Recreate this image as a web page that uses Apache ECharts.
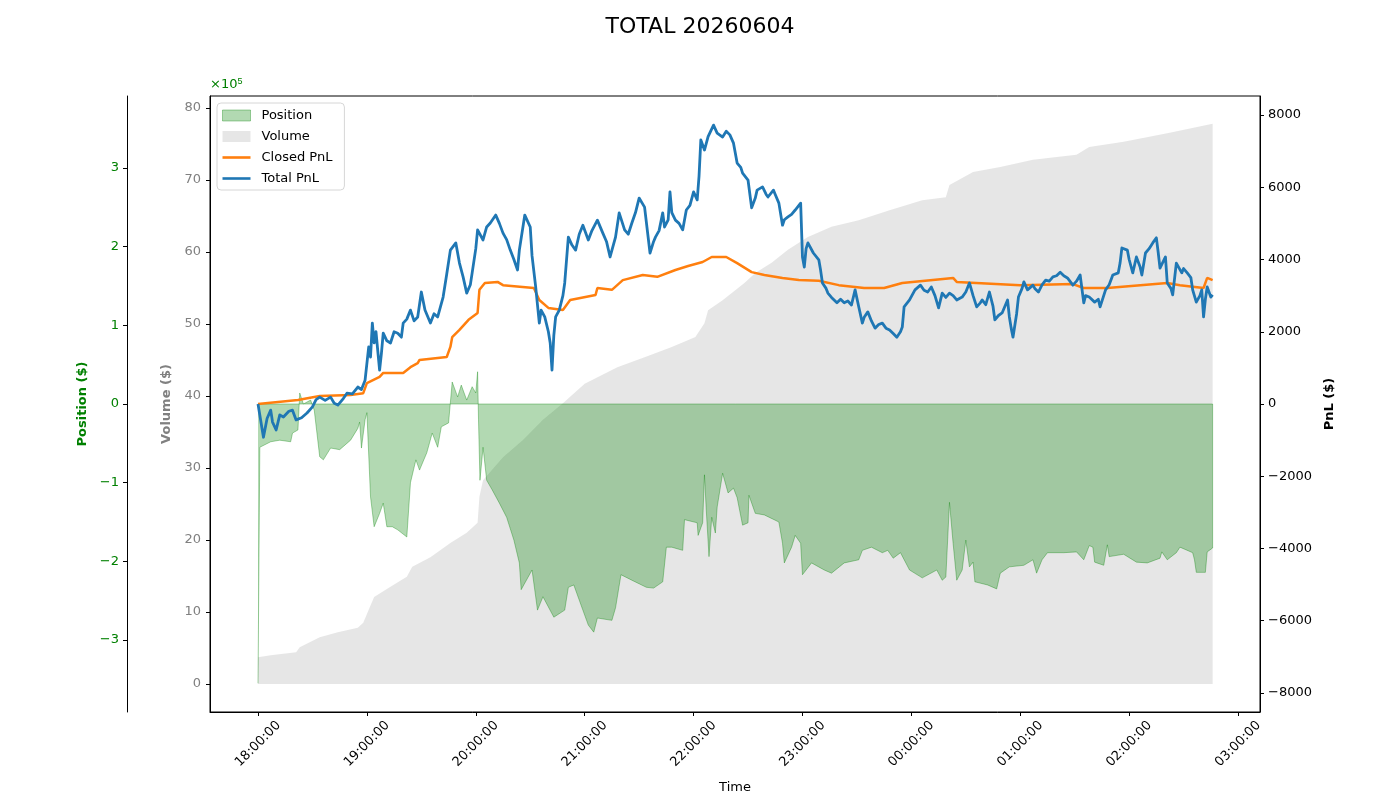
<!DOCTYPE html>
<html>
<head>
<meta charset="utf-8">
<title>TOTAL 20260604</title>
<script src="https://cdn.jsdelivr.net/npm/echarts@6/dist/echarts.min.js"></script>
<style>
  html, body { margin: 0; padding: 0; background: #fff; }
  #main { width: 1400px; height: 800px; }
</style>
</head>
<body>
<div id="main"></div>
<script>
// time is minutes after 18:00, position / volume in units of 1e5 $
const hourTicks = [0, 60, 120, 180, 240, 300, 360, 420, 480, 540]
const positionTicks = [-3, -2, -1, 0, 1, 2, 3]
const volumeTicks = [0, 10, 20, 30, 40, 50, 60, 70, 80]
const pnlTicks = [-8000, -6000, -4000, -2000, 0, 2000, 4000, 6000, 8000]

const position = [
    [0, -3.55], [1, -0.55], [7, -0.48], [12, -0.46], [18, -0.48], [19, -0.37], [22, -0.33], [23, 0.14],
    [25, 0], [29, 0.05], [31, -0.08], [34, -0.67], [36, -0.71], [40, -0.56], [45, -0.58], [51, -0.46],
    [55, -0.31], [56, -0.23], [57, -0.56], [59, -0.2], [60, -0.11], [62, -1.18], [64, -1.56], [67, -1.39],
    [69, -1.26], [71, -1.56], [74, -1.56], [77, -1.6], [82, -1.69], [84, -1.0], [87, -0.71], [89, -0.84],
    [93, -0.62], [96, -0.37], [99, -0.55], [101, -0.29], [105, -0.24], [107, 0.28], [110, 0.09], [112, 0.24],
    [115, 0.05], [118, 0.22], [120, 0.14], [121, 0.41], [121.5, -0.2], [122.3, -0.97], [124, -0.55], [126, -0.97],
    [129, -1.09], [133, -1.26], [137, -1.44], [141, -1.73], [144, -2.02], [145, -2.36], [151, -2.11], [154, -2.62],
    [157, -2.45], [163, -2.71], [169, -2.62], [171, -2.33], [174, -2.3], [179, -2.62], [182, -2.81], [185, -2.9],
    [187, -2.72], [195, -2.75], [197, -2.59], [200, -2.17], [206, -2.24], [214, -2.33], [218, -2.34], [223, -2.26],
    [225, -1.82], [228, -1.82], [234, -1.86], [235, -1.47], [242, -1.51], [242.5, -1.67], [245, -1.51], [246, -0.9],
    [247, -1.35], [248.5, -1.94], [250, -1.44], [252, -1.64], [253, -1.31], [256, -0.88], [259, -1.13], [262, -1.07],
    [264, -1.19], [267, -1.54], [270, -1.51], [270.5, -1.16], [274, -1.39], [279, -1.41], [287, -1.5], [289, -1.77],
    [290, -2.02], [294, -1.82], [296, -1.67], [299, -1.77], [300, -2.17], [305, -2.02], [312, -2.11], [316, -2.15],
    [323, -2.02], [331, -1.98], [333, -1.86], [338, -1.82], [344, -1.89], [347, -1.86], [350, -1.96], [354, -1.89],
    [359, -2.11], [366, -2.21], [374, -2.11], [377, -2.24], [379, -2.2], [381, -1.25], [383, -1.77], [385, -2.24],
    [388, -2.11], [390, -1.73], [392, -2.07], [394, -2.01], [395, -2.26], [402, -2.3], [407, -2.35], [409, -2.15],
    [414, -2.07], [422, -2.05], [427, -1.98], [429, -2.15], [432, -1.98], [435, -1.89], [444, -1.89], [451, -1.88],
    [455, -1.98], [458, -1.8], [460, -1.82], [461, -2.01], [466, -2.05], [468, -1.79], [469, -1.94], [477, -1.91],
    [484, -2.01], [490, -2.02], [497, -1.96], [498, -1.88], [501, -1.98], [506, -1.89], [508, -1.82], [515, -1.89],
    [516, -1.98], [517, -2.14], [522, -2.14], [523, -1.88], [526, -1.83]
]

const volume = [
    [0, 3.7], [7, 4.0], [21, 4.4], [23, 5.1], [34, 6.5], [44, 7.2], [55, 7.8], [58, 8.5], [61, 10.3],
    [64, 12.1], [73, 13.5], [82, 14.9], [85, 16.3], [95, 17.6], [106, 19.6], [115, 21.0], [121, 22.4],
    [122, 26.0], [124, 28.3], [135, 31.5], [146, 33.9], [157, 36.7], [168, 39.0], [180, 41.7], [198, 44.0],
    [213, 45.4], [228, 46.8], [241, 48.2], [246, 50.1], [248, 51.9], [256, 53.3], [268, 55.7], [274, 57.1],
    [283, 58.5], [292, 60.3], [303, 62.1], [316, 63.5], [331, 64.4], [348, 65.8], [366, 67.2], [379, 67.6],
    [381, 69.3], [394, 71.1], [409, 71.8], [427, 72.8], [451, 73.5], [458, 74.6], [477, 75.3], [501, 76.5],
    [526, 77.8]
]

const closedPnl = [
    [0, 0], [22, 110], [34, 220], [51, 250], [58, 300], [60, 580], [67, 750], [69, 860], [80, 860],
    [84, 1020], [88, 1130], [89, 1220], [104, 1300], [106, 1580], [107, 1850], [111, 2050], [116, 2330],
    [121, 2520], [122, 3160], [125, 3350], [132, 3380], [135, 3290], [152, 3210], [155, 2880], [160, 2660],
    [168, 2600], [172, 2880], [186, 3020], [187, 3210], [195, 3160], [201, 3430], [212, 3570], [220, 3520],
    [230, 3710], [237, 3820], [245, 3930], [250, 4070], [258, 4070], [264, 3900], [272, 3650], [279, 3570],
    [289, 3490], [298, 3430], [309, 3410], [320, 3290], [334, 3210], [345, 3210], [355, 3350], [383, 3490],
    [385, 3380], [420, 3290], [449, 3320], [455, 3210], [468, 3210], [501, 3350], [508, 3290], [521, 3210],
    [523, 3490], [526, 3430]
]

const totalPnl = [
    [0, 0], [3, -920], [5, -400], [7, -170], [8, -500], [10, -720], [12, -300], [14, -360], [17, -200],
    [19, -170], [21, -440], [24, -380], [27, -250], [30, -80], [32, 120], [34, 190], [37, 100], [40, 190],
    [42, 20], [44, -30], [47, 150], [49, 300], [52, 280], [55, 470], [57, 400], [59, 660], [61, 1580],
    [62, 1300], [63, 2240], [64, 1690], [65, 2000], [67, 940], [68, 1400], [69, 1960], [71, 1750], [73, 1690],
    [75, 2000], [77, 1960], [79, 1850], [80, 2240], [82, 2350], [84, 2600], [86, 2300], [88, 2410], [90, 3100],
    [92, 2600], [95, 2240], [97, 2500], [99, 2410], [102, 2960], [104, 3600], [106, 4260], [109, 4460],
    [111, 3900], [113, 3520], [115, 3070], [117, 3300], [118, 3630], [120, 4300], [121, 4820], [124, 4540],
    [126, 4900], [128, 5010], [131, 5230], [133, 5000], [135, 4730], [137, 4550], [139, 4260], [141, 4000],
    [143, 3710], [144, 4260], [147, 5230], [150, 4900], [151, 4100], [153, 3240], [155, 2240], [156, 2600],
    [158, 2410], [160, 2000], [161, 1690], [162, 940], [163, 1900], [164, 2410], [166, 2600], [168, 3000],
    [169, 3350], [171, 4620], [173, 4400], [175, 4260], [177, 4700], [179, 4950], [182, 4540], [184, 4800],
    [187, 5090], [190, 4730], [192, 4500], [194, 4070], [197, 4620], [199, 5290], [202, 4820], [204, 4700],
    [206, 5010], [208, 5300], [210, 5700], [213, 5450], [216, 4180], [218, 4500], [219, 4620], [221, 4800],
    [223, 5290], [224, 4900], [226, 5100], [227, 5870], [228, 5300], [230, 5090], [232, 5000], [234, 4820],
    [236, 5370], [238, 5500], [240, 5870], [242, 5650], [243, 6300], [244, 7310], [246, 7030], [248, 7400],
    [251, 7720], [253, 7500], [256, 7390], [258, 7550], [260, 7450], [262, 7220], [264, 6670], [266, 6550],
    [267, 6390], [270, 6200], [272, 5430], [274, 5700], [275, 5920], [278, 6010], [280, 5800], [281, 5730],
    [284, 5920], [285, 5800], [287, 5560], [289, 4950], [290, 5100], [292, 5180], [294, 5250], [296, 5370],
    [299, 5560], [300, 4070], [301, 3790], [302, 4300], [303, 4460], [306, 4180], [309, 3990], [310, 3700],
    [311, 3350], [313, 3200], [314, 3070], [316, 2950], [319, 2800], [321, 2900], [323, 2800], [325, 2850],
    [327, 2740], [329, 3160], [331, 2690], [333, 2240], [334, 2400], [336, 2550], [338, 2300], [340, 2100],
    [342, 2200], [344, 2240], [346, 2100], [348, 2050], [350, 1950], [352, 1850], [354, 2000], [355, 2130],
    [356, 2690], [359, 2880], [362, 3160], [365, 3290], [367, 3150], [369, 3100], [371, 3240], [373, 3000],
    [375, 2660], [377, 3070], [379, 2950], [381, 3070], [383, 3000], [385, 2880], [388, 2960], [390, 3100],
    [392, 3350], [394, 3000], [396, 2690], [398, 2800], [399, 2880], [401, 2750], [403, 3100], [405, 2700],
    [406, 2330], [408, 2450], [410, 2520], [413, 2880], [414, 2410], [415, 2100], [416, 1850], [418, 2500],
    [419, 2960], [421, 3200], [422, 3380], [424, 3160], [427, 3290], [428, 3200], [430, 3100], [432, 3300],
    [434, 3430], [436, 3400], [438, 3520], [440, 3550], [442, 3650], [444, 3550], [446, 3490], [449, 3290],
    [451, 3400], [453, 3570], [455, 2800], [456, 3000], [458, 2960], [461, 2820], [463, 2900], [464, 2690],
    [467, 3160], [469, 3300], [471, 3570], [474, 3630], [475, 3900], [476, 4320], [479, 4260], [480, 4000],
    [482, 3630], [484, 4070], [486, 3800], [487, 3570], [489, 4180], [491, 4300], [493, 4460], [495, 4600],
    [496, 4200], [497, 3760], [500, 4070], [501, 3350], [503, 3200], [504, 3020], [506, 3900], [509, 3630],
    [510, 3750], [512, 3630], [514, 3500], [515, 3160], [517, 2820], [519, 3000], [520, 3160], [521, 2410],
    [522, 2900], [523, 3240], [525, 2960], [526, 3020]
]

const font = 'DejaVu Sans'
const posGreen = 'green'
const volGray = '#808080'

function minus(v) {
    return String(v).replace('-', '\u2212')
}

function hourLabel(v) {
    let h = (18 + Math.round(v / 60)) % 24
    return (h < 10 ? '0' + h : '' + h) + ':00:00'
}

// zero edge of the position fill, from first to last sample
let posFirst = position[0][0]
let posLast = position[position.length - 1]
const positionEdge = [[posFirst, 0], [posLast[0], 0], [posLast[0], posLast[1]]]

const myChart = echarts.init(document.getElementById('main'))

const tickStyle = { show: true, inside: false, length: 4, lineStyle: { color: '#000', width: 1 } }
const lineIcon = 'path://M0,0H28V2.6H0Z'

myChart.setOption({
    animation: false,
    textStyle: { fontFamily: font },
    title: {
        text: 'TOTAL 20260604',
        left: 'center',
        top: 11,
        textStyle: { fontFamily: font, fontSize: 22, fontWeight: 'normal', color: '#000' }
    },
    graphic: [{
        type: 'text',
        left: 210,
        top: 77,
        style: {
            text: '×10{s|5}',
            fill: posGreen,
            font: '13px "DejaVu Sans"',
            rich: { s: { fontSize: 9, verticalAlign: 'top', fill: posGreen, padding: [0, 0, 6, 0] } }
        }
    }],
    legend: {
        orient: 'vertical',
        left: 217,
        top: 103,
        padding: [6, 12, 5, 5],
        itemWidth: 28,
        itemHeight: 11,
        itemGap: 8,
        backgroundColor: 'rgba(255,255,255,0.85)',
        borderColor: '#d6d6d6',
        borderWidth: 1,
        borderRadius: 4,
        textStyle: { fontFamily: font, fontSize: 13, color: '#000', padding: [0, 0, 0, 6] },
        data: [
            { name: 'Position', icon: 'rect', itemStyle: { color: 'rgba(0,128,0,0.3)', borderColor: 'rgba(0,128,0,0.35)', borderWidth: 1 } },
            { name: 'Volume', icon: 'rect', itemStyle: { color: 'rgba(128,128,128,0.2)', borderWidth: 0 } },
            { name: 'Closed PnL', icon: lineIcon, symbolKeepAspect: true, itemStyle: { color: '#ff7f0e' } },
            { name: 'Total PnL', icon: lineIcon, symbolKeepAspect: true, itemStyle: { color: '#1f77b4' } }
        ]
    },
    grid: {
        left: 210, right: 140, top: 96, bottom: 88,
        show: true, borderColor: '#000', borderWidth: 1, backgroundColor: 'transparent'
    },
    xAxis: {
        type: 'value',
        min: -26.45,
        max: 552.1,
        name: 'Time',
        nameLocation: 'middle',
        nameGap: 69,
        nameTextStyle: { fontFamily: font, fontSize: 13, color: '#000' },
        axisLine: { show: true, onZero: false, lineStyle: { color: '#000' } },
        axisTick: Object.assign({ customValues: hourTicks }, tickStyle),
        splitLine: { show: false },
        axisLabel: {
            customValues: hourTicks,
            rotate: 45,
            align: 'center',
            verticalAlign: 'middle',
            margin: 32,
            fontFamily: font,
            fontSize: 13,
            color: '#000',
            formatter: hourLabel
        }
    },
    yAxis: [
        {
            type: 'value',
            position: 'left',
            offset: 83,
            min: -3.915,
            max: 3.915,
            name: 'Position ($)',
            nameLocation: 'middle',
            nameRotate: 90,
            nameGap: 38,
            nameTextStyle: { fontFamily: font, fontSize: 13, fontWeight: 'bold', color: posGreen },
            axisLine: { show: true, onZero: false, lineStyle: { color: '#000' } },
            axisTick: Object.assign({ customValues: positionTicks }, tickStyle),
            splitLine: { show: false },
            axisLabel: { customValues: positionTicks, fontFamily: font, fontSize: 13, color: posGreen, margin: 8, formatter: minus }
        },
        {
            type: 'value',
            position: 'left',
            offset: 0,
            min: -3.89,
            max: 81.67,
            name: 'Volume ($)',
            nameLocation: 'middle',
            nameRotate: 90,
            nameGap: 36,
            nameTextStyle: { fontFamily: font, fontSize: 13, fontWeight: 'bold', color: volGray },
            axisLine: { show: true, onZero: false, lineStyle: { color: '#000' } },
            axisTick: Object.assign({ customValues: volumeTicks }, tickStyle),
            splitLine: { show: false },
            axisLabel: { customValues: volumeTicks, fontFamily: font, fontSize: 13, color: volGray, margin: 9 }
        },
        {
            type: 'value',
            position: 'right',
            min: -8526,
            max: 8526,
            name: 'PnL ($)',
            nameLocation: 'middle',
            nameRotate: 90,
            nameGap: 62,
            nameTextStyle: { fontFamily: font, fontSize: 13, fontWeight: 'bold', color: '#000' },
            axisLine: { show: true, onZero: false, lineStyle: { color: '#000' } },
            axisTick: Object.assign({ customValues: pnlTicks }, tickStyle),
            splitLine: { show: false },
            axisLabel: { customValues: pnlTicks, fontFamily: font, fontSize: 13, color: '#000', margin: 8, formatter: minus }
        }
    ],
    series: [
        {
            name: 'Volume',
            type: 'line',
            yAxisIndex: 1,
            data: volume,
            symbol: 'none',
            z: 1,
            lineStyle: { width: 0, color: 'rgba(128,128,128,0.2)' },
            itemStyle: { color: 'rgba(128,128,128,0.2)' },
            areaStyle: { color: 'rgba(128,128,128,0.2)', opacity: 1 }
        },
        {
            name: 'Position',
            type: 'line',
            yAxisIndex: 0,
            data: position,
            symbol: 'none',
            z: 2,
            lineStyle: { width: 1, color: 'rgba(0,128,0,0.35)' },
            itemStyle: { color: 'rgba(0,128,0,0.3)' },
            areaStyle: { color: 'rgba(0,128,0,0.3)', opacity: 1 }
        },
        {
            name: 'PositionEdge',
            type: 'line',
            yAxisIndex: 0,
            data: positionEdge,
            symbol: 'none',
            z: 2,
            silent: true,
            lineStyle: { width: 1, color: 'rgba(0,128,0,0.35)' }
        },
        {
            name: 'Closed PnL',
            type: 'line',
            yAxisIndex: 2,
            data: closedPnl,
            symbol: 'none',
            z: 3,
            color: '#ff7f0e',
            lineStyle: { width: 2.5, color: '#ff7f0e' }
        },
        {
            name: 'Total PnL',
            type: 'line',
            yAxisIndex: 2,
            data: totalPnl,
            symbol: 'none',
            z: 4,
            color: '#1f77b4',
            lineStyle: { width: 2.8, color: '#1f77b4', join: 'round' }
        }
    ]
})
</script>
</body>
</html>
